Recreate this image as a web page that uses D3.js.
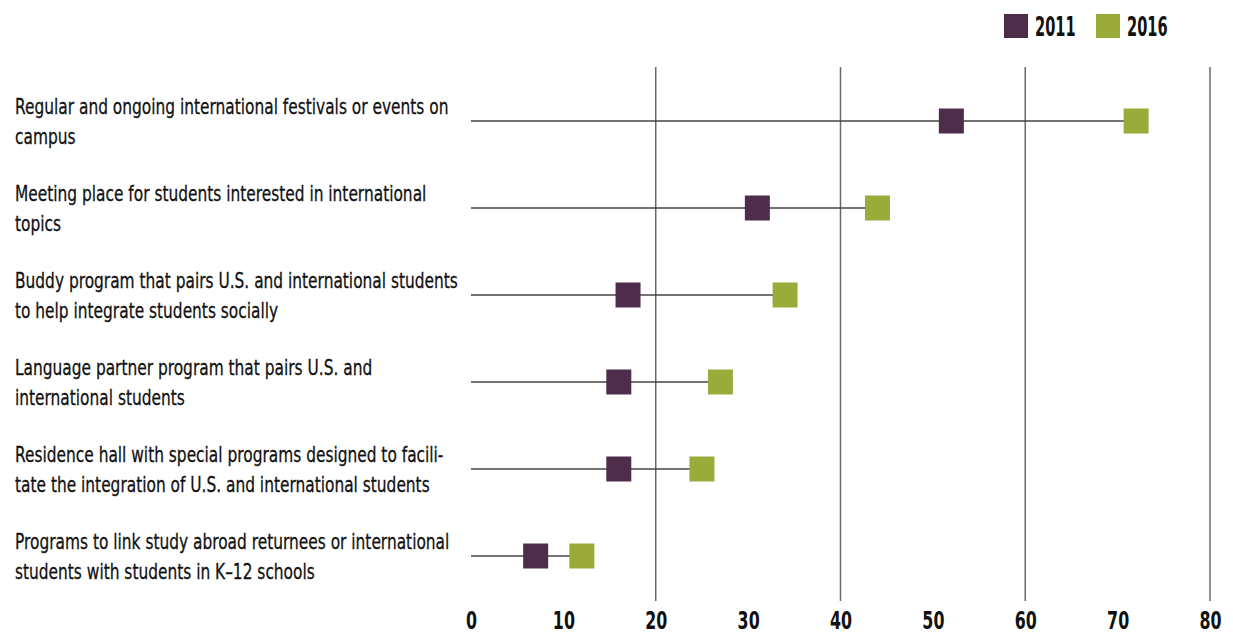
<!DOCTYPE html>
<html>
<head>
<meta charset="utf-8">
<script src="https://cdn.jsdelivr.net/npm/d3@7"></script>
<style>
  html, body { margin: 0; padding: 0; background: #fff; }
  svg { display: block; }
  text { font-family: "DejaVu Sans", sans-serif; fill: #111; }
</style>
</head>
<body>
<svg id="chart" width="1233" height="636"></svg>
<script>
// Campus programs and their share in each survey year (percent)
const categories = [
  ["Regular and ongoing international festivals or events on", "campus"],
  ["Meeting place for students interested in international", "topics"],
  ["Buddy program that pairs U.S. and international students", "to help integrate students socially"],
  ["Language partner program that pairs U.S. and", "international students"],
  ["Residence hall with special programs designed to facili-", "tate the integration of U.S. and international students"],
  ["Programs to link study abroad returnees or international", "students with students in K–12 schools"]
];
const values2011 = [52, 31, 17, 16, 16, 7];
const values2016 = [72, 44, 34, 27, 25, 12];
const xTicks = [0, 10, 20, 30, 40, 50, 60, 70, 80];
const gridTicks = [20, 40, 60, 80];
const seriesNames = ["2011", "2016"];
const seriesColors = ["#4e2d4b", "#9aab3a"];

// horizontal squeeze that gives the narrow, condensed lettering
const labelSqueeze = 0.717;
const tickSqueeze = 0.66;
const legendSqueeze = 0.54;

const svg = d3.select("#chart");

const x = d3.scaleLinear().domain([0, 80]).range([471, 1210]);
const y = d3.scalePoint().domain(d3.range(categories.length)).range([121, 556]);
const markerSize = 25;

// vertical gridlines
svg.append("g").selectAll("line")
  .data(gridTicks)
  .join("line")
  .attr("x1", d => x(d)).attr("x2", d => x(d))
  .attr("y1", 67).attr("y2", 601)
  .attr("stroke", "#6a6a6a").attr("stroke-width", 1.5);

// x axis labels
const xAxis = d3.axisBottom(x).tickValues(xTicks).tickSize(0).tickPadding(0);
const gx = svg.append("g").attr("transform", "translate(0,629)").call(xAxis);
gx.select(".domain").remove();
gx.selectAll("text")
  .attr("y", 0)
  .attr("dy", 0)
  .attr("transform", `scale(${tickSqueeze},1)`)
  .style("font-family", "'DejaVu Sans', sans-serif")
  .style("font-size", "24px")
  .style("font-weight", "bold")
  .attr("fill", "#111");

// rows
const rows = svg.append("g").selectAll("g")
  .data(categories.map((c, i) => ({ label: c, a: values2011[i], b: values2016[i], i })))
  .join("g");

rows.append("line")
  .attr("x1", x(0))
  .attr("x2", d => x(Math.max(d.a, d.b)))
  .attr("y1", d => y(d.i)).attr("y2", d => y(d.i))
  .attr("stroke", "#444").attr("stroke-width", 1.5);

rows.append("rect")
  .attr("x", d => x(d.a) - markerSize / 2)
  .attr("y", d => y(d.i) - markerSize / 2)
  .attr("width", markerSize).attr("height", markerSize)
  .attr("fill", seriesColors[0]);

rows.append("rect")
  .attr("x", d => x(d.b) - markerSize / 2)
  .attr("y", d => y(d.i) - markerSize / 2)
  .attr("width", markerSize).attr("height", markerSize)
  .attr("fill", seriesColors[1]);

// two-line category labels
const lineGap = 30;
rows.append("g")
  .attr("transform", d => `translate(15,${y(d.i)}) scale(${labelSqueeze},1)`)
  .selectAll("text")
  .data(d => d.label.map((t, k) => ({ t, k, n: d.label.length })))
  .join("text")
  .attr("x", 0)
  .attr("y", d => (d.k - (d.n - 1) / 2) * lineGap)
  .attr("dy", "0.36em")
  .style("font-size", "21.5px")
  .style("stroke", "#111")
  .style("stroke-width", 0.3)
  .text(d => d.t);

// legend
const legend = svg.append("g").selectAll("g")
  .data(seriesNames)
  .join("g")
  .attr("transform", (d, i) => `translate(${[1004, 1096][i]},14)`);
legend.append("rect")
  .attr("width", 24).attr("height", 24)
  .attr("fill", (d, i) => seriesColors[i]);
legend.append("text")
  .attr("transform", `translate(31,12) scale(${legendSqueeze},1)`)
  .attr("dy", "0.36em")
  .style("font-size", "27px")
  .style("font-weight", "bold")
  .text(d => d);
</script>
</body>
</html>
